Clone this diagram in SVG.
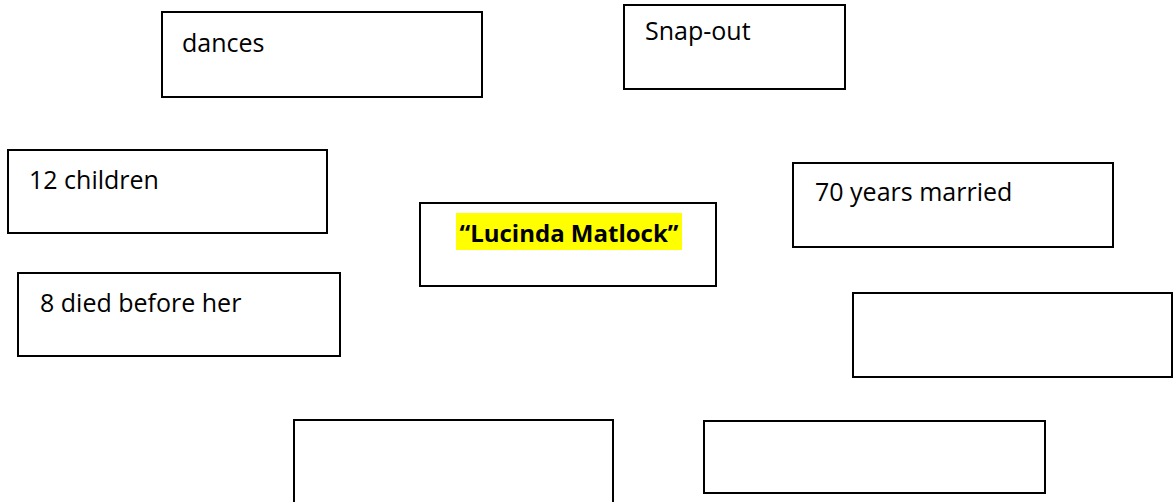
<svg xmlns="http://www.w3.org/2000/svg" width="1173" height="502" viewBox="0 0 1173 502">
<style>
.box{fill:#ffffff;stroke:#000000;stroke-width:2}
.lbl{font-family:"Open Sans","Noto Sans","Liberation Sans",sans-serif;font-size:25px;fill:#000000}
.title{font-family:"Open Sans","Noto Sans","Liberation Sans",sans-serif;font-size:24px;font-weight:bold;fill:#000000}
</style>
<rect x="0" y="0" width="1173" height="502" fill="#ffffff"/>
<g id="connectors"></g>
<g id="node-dances">
<rect class="box" x="162" y="12" width="320" height="85"/>
<text class="lbl" x="182" y="52">dances</text>
</g>
<g id="node-snapout">
<rect class="box" x="624" y="5" width="221" height="84"/>
<text class="lbl" x="645" y="40">Snap-out</text>
</g>
<g id="node-children">
<rect class="box" x="8" y="150" width="319" height="83"/>
<text class="lbl" x="29" y="189">12 children</text>
</g>
<g id="node-center">
<rect class="box" x="420" y="203" width="296" height="83"/>
<rect x="456" y="213" width="226" height="37" fill="#ffff00"/>
<text class="title" x="569" y="242" text-anchor="middle">“Lucinda Matlock”</text>
</g>
<g id="node-married">
<rect class="box" x="793" y="163" width="320" height="84"/>
<text class="lbl" x="815" y="201">70 years married</text>
</g>
<g id="node-died">
<rect class="box" x="18" y="273" width="322" height="83"/>
<text class="lbl" x="40" y="312">8 died before her</text>
</g>
<g id="node-empty-right">
<rect class="box" x="853" y="293" width="319" height="84"/>
</g>
<g id="node-empty-bottom-left">
<rect class="box" x="294" y="420" width="319" height="90"/>
</g>
<g id="node-empty-bottom-right">
<rect class="box" x="704" y="421" width="341" height="72"/>
</g>
</svg>
